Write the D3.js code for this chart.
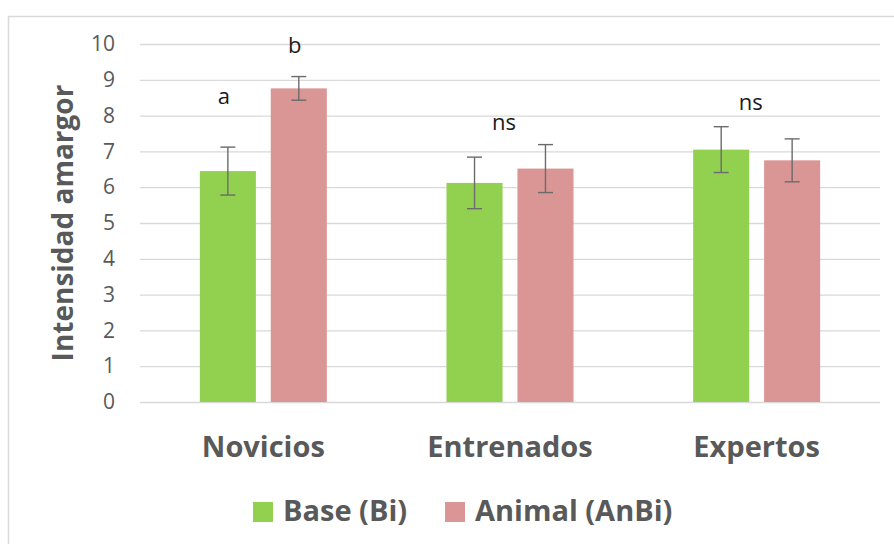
<!DOCTYPE html>
<html>
<head>
<meta charset="utf-8">
<script src="https://cdn.jsdelivr.net/npm/d3@7"></script>
<style>
  html, body { margin: 0; padding: 0; background: #ffffff; }
  svg { display: block; }
  text { font-family: "Open Sans", Lato, sans-serif; }
</style>
</head>
<body>
<svg id="chart" width="894" height="544"></svg>
<script>
// Bitterness intensity by panel group, base vs. animal stimulus
const categories = ["Novicios", "Entrenados", "Expertos"];
const seriesNames = ["Base (Bi)", "Animal (AnBi)"];
const baseValues = [6.45, 6.12, 7.05];
const baseErrors = [0.67, 0.72, 0.64];
const animalValues = [8.76, 6.52, 6.75];
const animalErrors = [0.33, 0.67, 0.60];
const yTicks = [0, 1, 2, 3, 4, 5, 6, 7, 8, 9, 10];
// significance letters: category, series index (null = whole group), height in axis units
const sigLabels = [
  { cat: "Novicios", series: 0, text: "a", level: 8.32 },
  { cat: "Novicios", series: 1, text: "b", level: 9.74 },
  { cat: "Entrenados", series: null, text: "ns", level: 7.6 },
  { cat: "Expertos", series: null, text: "ns", level: 8.16 }
];

const colors = ["#92d050", "#da9694"];
const textGray = "#595959";
const font = "'Open Sans', Lato, sans-serif";

const svg = d3.select("#chart");
const W = 894, H = 544;
const margin = { left: 140, right: 14, top: 44, bottom: 142 };

// outer chart frame
svg.append("rect")
  .attr("x", 8.5).attr("y", 16.5)
  .attr("width", W).attr("height", H)
  .attr("fill", "#ffffff")
  .attr("stroke", "#d9d9d9").attr("stroke-width", 1.5);

const x0 = d3.scaleBand()
  .domain(categories)
  .range([margin.left, W - margin.right])
  .paddingInner(0).paddingOuter(0);

const groupWidth = 127;
const x1 = d3.scaleBand()
  .domain([0, 1])
  .range([0, groupWidth])
  .paddingInner(0.21);

const y = d3.scaleLinear()
  .domain([0, 10])
  .range([H - margin.bottom, margin.top]);

// gridlines
const yAxis = d3.axisLeft(y)
  .tickValues(yTicks)
  .tickSize(-(x0.range()[1] - x0.range()[0]))
  .tickPadding(25)
  .tickFormat(d3.format("d"));

const gy = svg.append("g")
  .attr("transform", `translate(${margin.left},0)`)
  .call(yAxis);
gy.select(".domain").remove();
gy.selectAll(".tick line").attr("stroke", "#d9d9d9").attr("stroke-width", 1.3);
gy.selectAll(".tick text")
  .attr("fill", textGray)
  .style("font-size", "21px")
  .style("font-family", font);

// y axis title
svg.append("text")
  .attr("transform", `translate(73,${(y(0) + y(10)) / 2}) rotate(-90)`)
  .attr("text-anchor", "middle")
  .attr("fill", textGray)
  .style("font-size", "28px")
  .style("font-weight", "bold")
  .text("Intensidad amargor");

const rows = categories.map((c, i) => ({
  cat: c,
  values: [
    { s: 0, v: baseValues[i], e: baseErrors[i] },
    { s: 1, v: animalValues[i], e: animalErrors[i] }
  ]
}));

const groupOffset = (x0.bandwidth() - groupWidth) / 2;

const groups = svg.append("g").selectAll("g")
  .data(rows)
  .join("g")
  .attr("transform", d => `translate(${x0(d.cat) + groupOffset},0)`);

groups.selectAll("rect")
  .data(d => d.values)
  .join("rect")
  .attr("x", d => x1(d.s))
  .attr("y", d => y(d.v))
  .attr("width", x1.bandwidth())
  .attr("height", d => y(0) - y(d.v))
  .attr("fill", d => colors[d.s]);

// error bars
const capHalf = 7.5;
const eb = groups.selectAll("g.err")
  .data(d => d.values)
  .join("g")
  .attr("class", "err")
  .attr("stroke", "#6b6b6b")
  .attr("stroke-width", 1.4)
  .attr("fill", "none");

eb.append("line")
  .attr("x1", d => x1(d.s) + x1.bandwidth() / 2)
  .attr("x2", d => x1(d.s) + x1.bandwidth() / 2)
  .attr("y1", d => y(d.v + d.e))
  .attr("y2", d => y(d.v - d.e));
eb.append("line")
  .attr("x1", d => x1(d.s) + x1.bandwidth() / 2 - capHalf)
  .attr("x2", d => x1(d.s) + x1.bandwidth() / 2 + capHalf)
  .attr("y1", d => y(d.v + d.e))
  .attr("y2", d => y(d.v + d.e));
eb.append("line")
  .attr("x1", d => x1(d.s) + x1.bandwidth() / 2 - capHalf)
  .attr("x2", d => x1(d.s) + x1.bandwidth() / 2 + capHalf)
  .attr("y1", d => y(d.v - d.e))
  .attr("y2", d => y(d.v - d.e));

// significance letters
svg.append("g").selectAll("text")
  .data(sigLabels)
  .join("text")
  .attr("x", d => d.series === null
    ? x0(d.cat) + x0.bandwidth() / 2 - 6
    : x0(d.cat) + groupOffset + x1(d.series) + x1.bandwidth() / 2 - 4)
  .attr("y", d => y(d.level))
  .attr("text-anchor", "middle")
  .attr("fill", "#1a1a1a")
  .style("font-size", "22px")
  .text(d => d.text);

// category labels
const xAxis = d3.axisBottom(x0).tickSize(0).tickPadding(0);
const gx = svg.append("g")
  .attr("transform", `translate(0,${y(0)})`)
  .call(xAxis);
gx.select(".domain").remove();
gx.selectAll(".tick text")
  .attr("dy", 0)
  .attr("y", 55)
  .attr("fill", textGray)
  .style("font-size", "29px")
  .style("font-weight", "bold")
  .style("font-family", font);

// legend
const legend = svg.append("g").attr("transform", "translate(253,502)");
const legendItems = [
  { name: seriesNames[0], color: colors[0], x: 0 },
  { name: seriesNames[1], color: colors[1], x: 192 }
];
const li = legend.selectAll("g")
  .data(legendItems)
  .join("g")
  .attr("transform", d => `translate(${d.x},0)`);
li.append("rect")
  .attr("width", 20).attr("height", 20)
  .attr("fill", d => d.color);
li.append("text")
  .attr("x", 30).attr("y", 19)
  .attr("fill", textGray)
  .style("font-size", "29px")
  .style("font-weight", "bold")
  .text(d => d.name);
</script>
</body>
</html>
